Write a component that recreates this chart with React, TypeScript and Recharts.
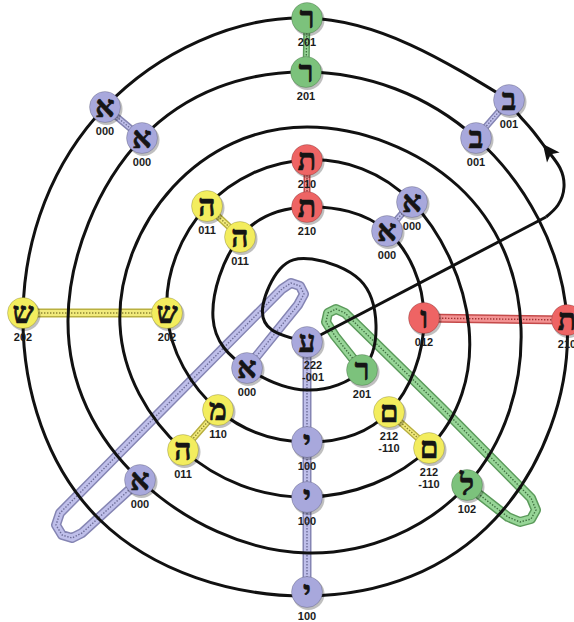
import React from "react";
import { ComposedChart, XAxis, YAxis, Line, Scatter } from "recharts";

// points, in pixels (x right, y down)
const spiral = [
  { x: 509, y: 100 }, { x: 307, y: 18 }, { x: 105, y: 107 }, { x: 23, y: 313 },
  { x: 100, y: 520 }, { x: 307, y: 596 }, { x: 495, y: 519 }, { x: 567, y: 320 },
  { x: 476, y: 138 }, { x: 306, y: 72 }, { x: 142, y: 138 }, { x: 68, y: 320 },
  { x: 140, y: 480 }, { x: 307, y: 553 }, { x: 467, y: 485 }, { x: 521, y: 328 },
  { x: 458, y: 186 }, { x: 307, y: 127 }, { x: 173, y: 187 }, { x: 120, y: 325 },
  { x: 183, y: 450 }, { x: 307, y: 497 }, { x: 429, y: 448 }, { x: 469, y: 328 },
  { x: 412, y: 202 }, { x: 307, y: 160 }, { x: 207, y: 206 }, { x: 167, y: 313 },
  { x: 218, y: 410 }, { x: 307, y: 442 }, { x: 389, y: 412 }, { x: 424, y: 318 },
  { x: 387, y: 231 }, { x: 307, y: 207 }, { x: 240, y: 237 }, { x: 213, y: 318 },
  { x: 247, y: 368 }, { x: 307, y: 390 }, { x: 362, y: 370 }, { x: 376, y: 325 },
  { x: 360, y: 280 }, { x: 312, y: 259 }, { x: 280, y: 269 }, { x: 263, y: 305 },
  { x: 272, y: 330 }, { x: 307, y: 342 },
];
const returnLine = [{ x: 307, y: 342 }, { x: 546, y: 217 }];
const returnCurve = [
  { x: 546, y: 217 }, { x: 558, y: 205 }, { x: 564, y: 187 }, { x: 560, y: 168 },
  { x: 548, y: 151 }, { x: 532, y: 130 }, { x: 518, y: 114 }, { x: 509, y: 100 },
];
const arrowAt = [{ x: 549, y: 152 }];

const blueLoop = [
  { x: 247, y: 368 }, { x: 298, y: 305 }, { x: 304, y: 294 }, { x: 300, y: 286 },
  { x: 291, y: 283 }, { x: 282, y: 289 }, { x: 160, y: 412 }, { x: 60, y: 513 },
  { x: 56, y: 525 }, { x: 62, y: 535 }, { x: 72, y: 538 }, { x: 82, y: 533 },
  { x: 140, y: 480 },
];
const greenLoop = [
  { x: 362, y: 370 }, { x: 335, y: 336 }, { x: 326, y: 322 }, { x: 328, y: 313 },
  { x: 336, y: 309 }, { x: 345, y: 313 }, { x: 442, y: 408 }, { x: 531, y: 498 },
  { x: 536, y: 510 }, { x: 531, y: 519 }, { x: 520, y: 522 }, { x: 508, y: 517 },
  { x: 467, y: 485 },
];
const blueColumn = [{ x: 307, y: 342 }, { x: 307, y: 592 }];
const shinBar = [{ x: 23, y: 313 }, { x: 167, y: 313 }];
const vavBar = [{ x: 424, y: 318 }, { x: 567, y: 320 }];
const pairsBlue = [
  [{ x: 105, y: 107 }, { x: 142, y: 138 }],
  [{ x: 412, y: 202 }, { x: 387, y: 231 }],
  [{ x: 509, y: 100 }, { x: 476, y: 138 }],
];
const pairsGreen = [[{ x: 307, y: 18 }, { x: 306, y: 72 }]];
const pairsRed = [[{ x: 307, y: 160 }, { x: 307, y: 207 }]];
const pairsYellow = [
  [{ x: 207, y: 206 }, { x: 240, y: 237 }],
  [{ x: 218, y: 410 }, { x: 183, y: 450 }],
  [{ x: 389, y: 412 }, { x: 429, y: 448 }],
];

const blueNodes = [
  { x: 105, y: 107, letter: "א", code: "000" },
  { x: 142, y: 138, letter: "א", code: "000" },
  { x: 412, y: 202, letter: "א", code: "000" },
  { x: 387, y: 231, letter: "א", code: "000" },
  { x: 247, y: 368, letter: "א", code: "000" },
  { x: 140, y: 480, letter: "א", code: "000" },
  { x: 509, y: 100, letter: "ב", code: "001" },
  { x: 476, y: 138, letter: "ב", code: "001" },
  { x: 307, y: 342, letter: "ע", code: "222", code2: "-001" },
  { x: 307, y: 442, letter: "י", code: "100" },
  { x: 307, y: 497, letter: "י", code: "100" },
  { x: 307, y: 592, letter: "י", code: "100" },
];
const greenNodes = [
  { x: 307, y: 18, letter: "ר", code: "201" },
  { x: 306, y: 72, letter: "ר", code: "201" },
  { x: 362, y: 370, letter: "ר", code: "201" },
  { x: 467, y: 485, letter: "ל", code: "102" },
];
const redNodes = [
  { x: 307, y: 160, letter: "ת", code: "210" },
  { x: 307, y: 207, letter: "ת", code: "210" },
  { x: 424, y: 318, letter: "ו", code: "012" },
  { x: 567, y: 320, letter: "ת", code: "210" },
];
const yellowNodes = [
  { x: 23, y: 313, letter: "ש", code: "202" },
  { x: 167, y: 313, letter: "ש", code: "202" },
  { x: 207, y: 206, letter: "ה", code: "011" },
  { x: 240, y: 237, letter: "ה", code: "011" },
  { x: 218, y: 410, letter: "מ", code: "110" },
  { x: 183, y: 450, letter: "ה", code: "011" },
  { x: 389, y: 412, letter: "ם", code: "212", code2: "-110" },
  { x: 429, y: 448, letter: "ם", code: "212", code2: "-110" },
];

const palette = {
  blue: { node: "#a8a8dc", edge: "#8585b3", fill: "#bfbfea", dot: "#6b6b96" },
  green: { node: "#7cc27c", edge: "#5b9b5b", fill: "#97d597", dot: "#3f6f3f" },
  red: { node: "#ee6464", edge: "#c44a4a", fill: "#f39393", dot: "#a03232" },
  yellow: { node: "#f3ed5e", edge: "#b9b040", fill: "#f1ea7c", dot: "#8a8430" },
};

const band = (key: string, data: any[], c: any, w: number) => (
  <React.Fragment key={key}>
    <Line data={data} dataKey="y" type="linear" stroke={c.edge} strokeWidth={w}
      strokeLinejoin="round" strokeLinecap="round" dot={false} activeDot={false} isAnimationActive={false} />
    <Line data={data} dataKey="y" type="linear" stroke={c.fill} strokeWidth={w - 3}
      strokeLinejoin="round" strokeLinecap="round" dot={false} activeDot={false} isAnimationActive={false} />
    <Line data={data} dataKey="y" type="linear" stroke={c.dot} strokeWidth={1.4}
      strokeDasharray="1.4 1.6" dot={false} activeDot={false} isAnimationActive={false} />
  </React.Fragment>
);

const nodeShape = (fill: string) => (props: any) => {
  const { cx, cy, payload } = props;
  const dx = payload.letter === "ע" ? 6 : 0;
  const dy = payload.letter === "ע" ? -1 : 0;
  const labelFont = { fontFamily: "'Liberation Sans', Arial, sans-serif", fontWeight: 700, fontSize: 11, fill: "#1c1c1c" };
  return (
    <g>
      <circle cx={cx + 1.5} cy={cy + 2} r={16} fill="#000" opacity={0.25} />
      <circle cx={cx} cy={cy} r={15.5} fill={fill} stroke="rgba(0,0,0,0.18)" strokeWidth={1} />
      <text x={cx} y={cy + 10} textAnchor="middle" fontFamily="'Liberation Serif', 'DejaVu Serif', serif"
        fontWeight={700} fontSize={30} fill="#151515" stroke="#151515" strokeWidth={0.7}>{payload.letter}</text>
      <text x={cx + dx} y={cy + 24 + dy} textAnchor="middle" dominantBaseline="central" {...labelFont}>{payload.code}</text>
      {payload.code2 ? (
        <text x={cx + dx} y={cy + 36 + dy} textAnchor="middle" dominantBaseline="central" {...labelFont}>{payload.code2}</text>
      ) : null}
    </g>
  );
};

const arrowShape = (props: any) => {
  const { cx, cy } = props;
  return (
    <path d="M0,-10 L8,7 L0,3 L-8,7 Z" fill="#111" transform={`translate(${cx},${cy}) rotate(-38)`} />
  );
};

export default function App() {
  return (
    <div style={{ position: "absolute", left: 0, top: 0, width: 574, height: 622, background: "#fff" }}>
      <ComposedChart width={574} height={622} margin={{ top: 0, right: 0, bottom: 0, left: 0 }}>
        <XAxis type="number" dataKey="x" domain={[0, 574]} hide />
        <YAxis type="number" dataKey="y" domain={[0, 622]} reversed hide />

        {band("blueLoop", blueLoop, palette.blue, 10)}
        {band("greenLoop", greenLoop, palette.green, 10)}
        {band("blueColumn", blueColumn, palette.blue, 9)}
        {band("shin", shinBar, palette.yellow, 9)}
        {band("vav", vavBar, palette.red, 9)}
        {pairsBlue.map((p, i) => band("pb" + i, p, palette.blue, 7))}
        {pairsGreen.map((p, i) => band("pg" + i, p, palette.green, 7))}
        {pairsRed.map((p, i) => band("pr" + i, p, palette.red, 7))}
        {pairsYellow.map((p, i) => band("py" + i, p, palette.yellow, 7))}

        <Line data={spiral} dataKey="y" type="natural" stroke="#111" strokeWidth={3}
          dot={false} activeDot={false} isAnimationActive={false} />
        <Line data={returnLine} dataKey="y" type="linear" stroke="#111" strokeWidth={3}
          dot={false} activeDot={false} isAnimationActive={false} />
        <Line data={returnCurve} dataKey="y" type="natural" stroke="#111" strokeWidth={3}
          dot={false} activeDot={false} isAnimationActive={false} />
        <Scatter data={arrowAt} shape={arrowShape} isAnimationActive={false} />

        <Scatter data={blueNodes} shape={nodeShape(palette.blue.node)} isAnimationActive={false} />
        <Scatter data={greenNodes} shape={nodeShape(palette.green.node)} isAnimationActive={false} />
        <Scatter data={redNodes} shape={nodeShape(palette.red.node)} isAnimationActive={false} />
        <Scatter data={yellowNodes} shape={nodeShape(palette.yellow.node)} isAnimationActive={false} />
      </ComposedChart>
    </div>
  );
}
